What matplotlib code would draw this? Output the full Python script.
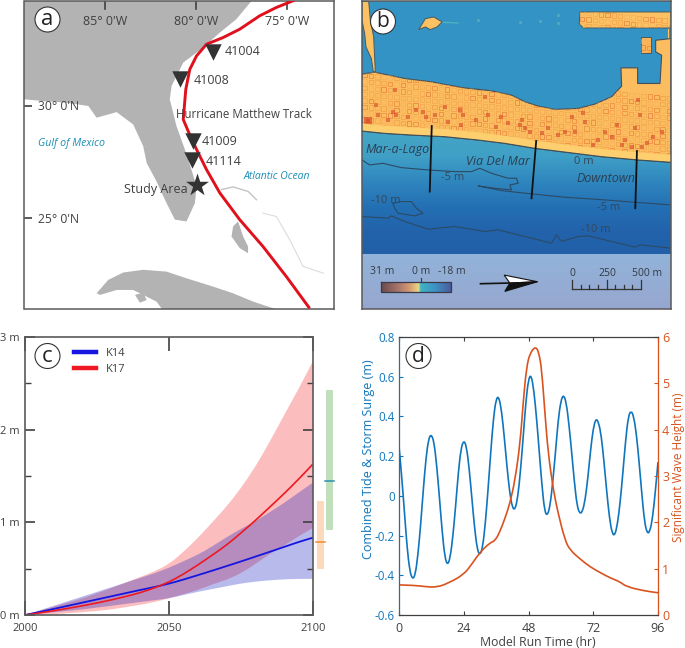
import numpy as np
import matplotlib
matplotlib.use("Agg")
import matplotlib.pyplot as plt
from matplotlib.colors import LinearSegmentedColormap
from matplotlib.patches import Circle, Polygon, PathPatch
from matplotlib.path import Path
from matplotlib.transforms import IdentityTransform

plt.rcParams['font.family'] = ['Open Sans', 'DejaVu Sans']

W, H = 685, 648

# ---- panel a, lon/lat
coast_lon = [-92, -89.39, -88.38, -87.10, -85.91, -85.46, -84.36, -83.45, -82.90, -82.71, -82.17, -81.62, -81.16,
             -80.52, -80.06, -79.97, -80.25, -80.61, -81.07, -81.44, -81.34, -80.70, -79.61, -78.69, -77.78, -76.86, -76.5, -92]
coast_lat = [30.30, 30.30, 30.22, 30.15, 30.0, 29.48, 29.73, 29.18, 28.21, 27.46, 26.64, 25.67, 24.93,
             24.85, 25.67, 26.42, 27.16, 28.06, 29.10, 30.30, 30.90, 31.94, 32.61, 33.28, 33.88, 34.78, 36, 36]
cuba_lon = [-85.46, -84.82, -83.99, -82.90, -81.62, -80.52, -79.06, -77.96, -76.86, -75.49, -75.40, -81.62, -82.17, -83.45, -84.36, -85.27]
cuba_lat = [21.64, 22.24, 22.57, 22.69, 22.61, 22.31, 21.94, 21.64, 21.27, 20.90, 20.67, 20.67, 21.27, 21.79, 21.79, 21.57]
youth_lon = [-83.35, -82.90, -82.71, -83.08]
youth_lat = [21.57, 21.67, 21.34, 21.22]
andros_lon = [-77.96, -77.69, -77.41, -77.14, -77.14, -77.60, -78.05]
andros_lat = [24.63, 24.85, 24.18, 23.73, 23.43, 23.66, 24.18]
bahama_lon = [-78.60, -77.96, -77.14, -76.68]
bahama_lat = [26.27, 26.39, 26.19, 25.82]
bank_lon = [-76.32, -75.59, -74.85, -74.12, -73.0]
bank_lat = [25.22, 25.07, 24.03, 22.84, 22.54]
track_lon = [-74.58, -75.59, -76.50, -77.60, -78.51, -79.42, -79.97, -80.34, -80.56, -80.70, -80.43, -79.97, -79.42, -78.69, -77.60, -76.32, -75.04, -73.76]
track_lat = [34.73, 34.40, 34.03, 33.43, 33.06, 32.76, 32.24, 31.64, 30.75, 29.40, 28.88, 28.06, 27.16, 26.12, 24.93, 23.73, 22.39, 20.97]
buoy_ids = ['41004', '41008', '41009', '41114']
buoy_lon = [-79.06, -80.89, -80.19, -80.21]
buoy_lat = [32.42, 31.19, 28.43, 27.58]
study_lon = [-79.97]
study_lat = [26.49]

# ---- panel b, map units (2.43 m each)
mainland_x = [52, 90, 180, 260, 350, 440, 500, 540, 580, 630, 700, 750, 800, 830, 828, 878, 878, 945, 950, 932, 932, 978,
              978, 880, 770, 650, 570, 480, 400, 300, 200, 120, 52]
mainland_y = [222, 216, 235, 245, 262, 272, 285, 305, 318, 328, 325, 312, 290, 258, 203, 203, 250, 250, 165, 155, 120, 115,
              487, 480, 470, 455, 445, 430, 420, 410, 405, 400, 393]
spit_x = [52, 72, 77, 87, 90, 92, 86, 80, 64, 60, 52]
spit_y = [3, 3, 60, 110, 175, 215, 215, 175, 140, 100, 60]
island_x = [705, 978, 978, 715, 703]
island_y = [35, 35, 83, 83, 70]
block_x = [887, 918, 918, 887]
block_y = [110, 110, 158, 158]
islet_x = [222, 242, 267, 292, 277, 257, 242]
islet_y = [88, 55, 50, 65, 80, 88, 80]
shoal_x = [400, 525, 585, 640, 640]
shoal_y = [60, 65, 62, 67, 43]
contour5_x = [52, 75, 115, 170, 250, 330, 380, 405, 440, 490, 515, 520, 495, 500, 450, 400, 470, 560, 660, 780, 880, 978]
contour5_y = [480, 495, 490, 503, 510, 515, 515, 505, 520, 535, 535, 550, 555, 570, 565, 558, 572, 582, 592, 600, 608, 615]
contour10_x = [52, 130, 140, 180, 250, 330, 420, 460, 520, 620, 635, 650, 700, 730, 800, 870, 885, 978]
contour10_y = [650, 655, 648, 665, 688, 680, 695, 690, 705, 730, 705, 725, 710, 708, 725, 742, 735, 745]
blob_x = [145, 170, 200, 215, 235, 210, 160, 150, 145]
blob_y = [610, 605, 605, 625, 640, 648, 640, 625, 610]
transect_x = [(261, 255), (574, 560), (876, 871)]
transect_y = [(378, 575), (423, 595), (453, 625)]
# darker building clusters
bld_x = [70, 100, 145, 155, 235, 245, 270, 300, 355, 350, 430, 455, 525, 540, 555, 590, 640, 715, 720, 745, 800, 830, 860, 885, 890,
         925, 150, 345, 420, 690, 880, 95, 130, 190, 215, 310, 395, 470, 490, 530, 610, 660, 680, 760, 780, 815, 840, 870, 905, 950]
bld_y = [362, 345, 335, 345, 335, 350, 345, 320, 345, 375, 345, 380, 375, 385, 395, 400, 405, 340, 365, 435, 410, 435, 440, 345, 440,
         410, 270, 330, 290, 395, 300, 315, 360, 350, 330, 365, 360, 350, 370, 360, 385, 395, 350, 420, 395, 375, 420, 385, 430, 395]

# ---- panel c
years = [2000, 2005, 2010, 2015, 2020, 2025, 2030, 2035, 2040, 2045, 2050, 2055, 2060, 2065, 2070, 2075, 2080, 2085, 2090, 2095, 2100]
k14_med = [0, .032, .066, .10, .134, .168, .202, .236, .27, .302, .338, .382, .43, .478, .528, .578, .63, .682, .735, .788, .835]
k14_low = [0, .015, .03, .045, .06, .08, .10, .12, .14, .16, .18, .215, .25, .28, .31, .34, .36, .375, .385, .39, .39]
k14_high = [0, .05, .10, .15, .20, .25, .30, .35, .40, .45, .51, .58, .65, .74, .84, .93, 1.01, 1.11, 1.21, 1.32, 1.43]
k17_med = [0, .022, .046, .072, .10, .13, .163, .20, .24, .293, .355, .44, .54, .645, .755, .885, 1.02, 1.165, 1.31, 1.465, 1.63]
k17_low = [0, .005, .01, .02, .03, .045, .06, .085, .11, .14, .18, .225, .27, .33, .38, .45, .55, .66, .75, .85, .94]
k17_high = [0, .045, .09, .135, .18, .235, .29, .35, .41, .47, .55, .68, .83, 1.0, 1.17, 1.37, 1.60, 1.87, 2.16, 2.44, 2.74]
bar_low = [0.50, 0.92]
bar_high = [1.23, 2.43]
bar_mid = [0.79, 1.45]
bar_left = [2101.4, 2104.6]
bar_right = [2103.7, 2106.9]
bar_colors = ['#fdd9bb', '#c0e0bb']
mid_colors = ['#f08a33', '#2b8fb0']

# ---- panel d
hours = list(range(97))
tide = [.25, .10, -.08, -.26, -.38, -.42, -.40, -.30, -.15, .03, .19, .29, .31, .27, .15, -.01, -.18, -.31, -.35, -.31,
        -.20, -.05, .12, .24, .28, .25, .14, -.01, -.16, -.27, -.30, -.26, -.14, .03, .22, .39, .49, .50, .43, .30,
        .15, .02, -.06, -.07, -.01, .12, .29, .47, .59, .61, .53, .39, .22, .05, -.08, -.10, -.05, .07, .22, .38,
        .48, .51, .47, .36, .22, .07, -.05, -.09, -.08, -.02, .09, .23, .34, .39, .37, .30, .17, .02, -.11, -.19,
        -.20, -.14, -.03, .12, .28, .40, .43, .40, .31, .17, .01, -.13, -.19, -.18, -.11, .02, .17]
wave_t = [0, 6, 10, 14, 18, 24, 27, 30, 33.7, 35.6, 37.4, 39.3, 41.1, 43, 44.9, 46.1, 47.3, 48.6, 50.7, 51.9, 52.9, 54.1,
          55.3, 57.2, 59, 61.5, 63.4, 67.1, 70.8, 75, 78.7, 81.8, 84.3, 91, 96]
wave_h = [.65, .64, .61, .60, .68, .87, 1.10, 1.35, 1.56, 1.60, 1.80, 2.09, 2.41, 2.91, 3.71, 4.64, 5.36, 5.66, 5.80, 5.65, 5.29, 4.35,
          3.49, 2.70, 2.19, 1.62, 1.40, 1.21, 1.04, .90, .79, .72, .61, .52, .48]

GRAY = '#404040'
FRAME = '#5a5a5a'


def add_axes(x0, y0, x1, y1):
    return fig.add_axes([x0 / W, 1 - y1 / H, (x1 - x0) / W, (y1 - y0) / H])


def panel_letter(cx, cy, letter, size):
    fig.add_artist(Circle((cx, H - cy), 12.5, transform=IdentityTransform(), fc='white', ec='#333333', lw=0.8, zorder=10))
    fig.text(cx / W, 1 - cy / H, letter, ha='center', va='center', fontsize=size, color='#222222', zorder=11)


def curve(x, y):
    # quadratic bezier through the read values so the line has no corners
    verts = [(x[0], y[0])]
    codes = [Path.MOVETO]
    for i in range(1, len(x) - 1):
        verts += [(x[i], y[i]), ((x[i] + x[i + 1]) / 2, (y[i] + y[i + 1]) / 2)]
        codes += [Path.CURVE3, Path.CURVE3]
    verts.append((x[-1], y[-1]))
    codes.append(Path.LINETO)
    return verts, codes


def draw_line(ax, x, y, color, lw):
    verts, codes = curve(x, y)
    ax.add_patch(PathPatch(Path(verts, codes), fc='none', ec=color, lw=lw))


def draw_band(ax, x, low, high, color, alpha):
    v1, c1 = curve(x, high)
    v2, c2 = curve(x[::-1], low[::-1])
    c2[0] = Path.LINETO
    verts = v1 + v2 + [v1[0]]
    codes = c1 + c2 + [Path.CLOSEPOLY]
    ax.add_patch(PathPatch(Path(verts, codes), fc=color, alpha=alpha, lw=0))


def block_texture(ax, clip, x0, x1, y0, y1):
    # hollow city blocks along the shore direction, colours cycle so it doesn't look like a plain grid
    cols = ['#f7b259', '#f0953f', '#ea7d35', '#f6ad56', '#f09a47', '#e56f36', '#f3a34e']
    groups = {c: ([], []) for c in cols}
    for i, gx in enumerate(range(x0, x1, 19)):
        for j, gy in enumerate(range(y0, y1, 19)):
            c = cols[(i * 3 + j * 5 + i * j) % len(cols)]
            groups[c][0].append(gx)
            groups[c][1].append(gy + (gx - 52) * 0.098)
    for c, (px, py) in groups.items():
        pts = ax.scatter(px, py, s=10, marker='s', facecolors='none', edgecolors=c, lw=0.45, alpha=.9, zorder=3.2)
        pts.set_clip_path(clip)


fig = plt.figure(figsize=(W / 100, H / 100), dpi=100)

# panel a
ax = add_axes(24.5, 1, 334, 309)
ax.set_xlim(-89.42, -72.42)
ax.set_ylim(20.94, 34.69)
land = '#b3b3b3'
ax.fill(coast_lon, coast_lat, color=land, lw=0)
ax.fill(cuba_lon, cuba_lat, color=land, lw=0)
ax.fill(youth_lon, youth_lat, color=land, lw=0)
ax.fill(andros_lon, andros_lat, color=land, lw=0)
ax.plot(bahama_lon, bahama_lat, color='#c4c4c4', lw=1)
ax.plot(bank_lon, bank_lat, color='#dcdcdc', lw=0.8)
ax.plot(track_lon, track_lat, color='#e0101c', lw=2.1, zorder=3, solid_capstyle='butt')
ax.scatter(buoy_lon, buoy_lat, marker='v', s=140, color='#333333', lw=0, zorder=4)
ax.scatter(study_lon, study_lat, marker='*', s=300, color='#333333', lw=0, zorder=4)
ax.set_xticks([])
ax.set_yticks([25, 30])
ax.tick_params(axis='y', direction='in', labelleft=False, length=6, width=1.2, color=GRAY)
for lon, lab in zip([-85, -80, -75], ["85° 0'W", "80° 0'W", "75° 0'W"]):
    ax.plot([lon, lon], [34.69, 34.35], color=GRAY, lw=1.2)
    ax.text(lon, 33.79, lab, ha='center', va='center', fontsize=9, color=GRAY)
ax.text(-87.55, 29.96, "30° 0'N", ha='center', va='center', fontsize=8.7, color=GRAY)
ax.text(-87.55, 24.95, "25° 0'N", ha='center', va='center', fontsize=8.7, color=GRAY)
for b, lab, dx, dy in zip(range(4), buoy_ids, [0.65, 0.75, 0.5, 0.75], [0, -0.05, 0, -0.05]):
    ax.text(buoy_lon[b] + dx, buoy_lat[b] + dy, lab, va='center', fontsize=9, color=GRAY, zorder=5)
ax.text(-81.1, 29.62, 'Hurricane Matthew Track', va='center', fontsize=8.3, color=GRAY, zorder=5)
ax.text(-83.96, 26.27, 'Study Area', va='center', fontsize=9, color=GRAY, zorder=5)
ax.text(-88.7, 28.35, 'Gulf of Mexico', va='center', fontsize=7.7, style='italic', color='#1b8fb5')
ax.text(-77.4, 26.87, 'Atlantic Ocean', va='center', fontsize=7.5, style='italic', color='#1b8fb5')
for s in ax.spines.values():
    s.set_color(FRAME)
    s.set_linewidth(1.1)
panel_letter(47.5, 19.5, 'a', 16)

# panel b
ax = add_axes(362, 1, 671, 309)
water = LinearSegmentedColormap.from_list('water', ['#45a5c5', '#3f9fc6', '#2f86be', '#2470b4', '#2263ab', '#2160a8'])
ax.set_facecolor('#3393c4')
ax.imshow(np.linspace(0, 1, 200)[:, None], extent=(52, 978, 770, 400), cmap=water, aspect='auto', zorder=1)
ax.imshow(np.linspace(0, 1, 50)[:, None], extent=(52, 978, 928, 765), aspect='auto', zorder=2,
          cmap=LinearSegmentedColormap.from_list('strip', ['#92b3d9', '#97a7cf']))
top_water = Polygon(list(zip(mainland_x[:22], mainland_y[:22])) + [(978, 2), (52, 2)], fc='#3393c4', lw=0, zorder=1.4)
ax.add_patch(top_water)
for lx, ly in [(spit_x, spit_y), (islet_x, islet_y)]:
    ax.fill(lx, ly, fc='#fcc163', ec='#4a5a60', lw=0.7, zorder=3)
island = ax.fill(island_x, island_y, fc='#fcc163', ec='#4a5a60', lw=0.7, zorder=3)[0]
block = ax.fill(block_x, block_y, fc='#fbb45a', ec='#4a5a60', lw=0.7, zorder=3)[0]
ax.plot([292, 340], [66, 68], color='#4fb0c0', lw=1, zorder=2.5)
ax.scatter(shoal_x, shoal_y, s=5, color='#58a9b8', lw=0, zorder=2.5)
ax.plot([970, 970], [85, 115], color='#fcc163', lw=0.8, zorder=2.5)
main = Polygon(list(zip(mainland_x, mainland_y)), fc='#fbbd5f', ec='#41505a', lw=0.8, zorder=3)
ax.add_patch(main)
block_texture(ax, main, 60, 980, 205, 395)
block_texture(ax, island, 712, 980, -28, 20)
block_texture(ax, block, 895, 915, 40, 80)
blds = ax.scatter(bld_x, bld_y, s=8, marker='s', color='#d9502c', alpha=.65, lw=0, zorder=3.3)
blds.set_clip_path(main)
# beach strip over the blocks
beach = ax.fill(mainland_x[22:] + [52, 120, 200, 300, 400, 480, 570, 650, 770, 880, 978],
                mainland_y[22:] + [370, 377, 382, 387, 397, 407, 422, 432, 447, 457, 464], fc='#fdcf6e', lw=0, zorder=3.4)[0]
beach.set_clip_path(main)
ax.plot(mainland_x[22:], mainland_y[22:], color='#41505a', lw=0.8, zorder=3.5)
ax.scatter([70], [362], s=40, marker='s', color='#d9502c', alpha=.7, lw=0, zorder=3.3)
ax.plot(contour5_x, contour5_y, color='#2c4a66', lw=0.8, zorder=4)
ax.plot(contour10_x, contour10_y, color='#2c4a66', lw=0.8, zorder=4)
ax.plot(blob_x, blob_y, color='#2c4a66', lw=0.8, zorder=4)
for tx, ty in zip(transect_x, transect_y):
    ax.plot(tx, ty, color='#111111', lw=1.3, zorder=5)
note = dict(fontsize=8, color='#33475a', zorder=6, va='center')
ax.text(62, 447, 'Mar-a-Lago', style='italic', fontsize=9, color='#2b3f52', zorder=6, va='center')
ax.text(363, 485, 'Via Del Mar', style='italic', fontsize=9, color='#2b3f52', zorder=6, va='center')
ax.text(695, 536, 'Downtown', style='italic', fontsize=9, color='#2b3f52', zorder=6, va='center')
ax.text(688, 484, '0 m', **note)
ax.text(288, 534, '-5 m', **note)
ax.text(757, 623, '-5 m', **note)
ax.text(78, 602, '-10 m', **note)
ax.text(708, 690, '-10 m', **note)
depth = LinearSegmentedColormap.from_list('depth', [(0, '#6c4a4c'), (.25, '#a9776c'), (.4, '#d69a72'), (.53, '#e6d884'),
                                                     (.56, '#3fb3c5'), (.78, '#3e8ec4'), (1, '#4b5a98')])
ax.imshow(np.linspace(0, 1, 200)[None, :], extent=(110, 320, 878, 848), cmap=depth, aspect='auto', zorder=6)
ax.plot([110, 320, 320, 110, 110], [848, 848, 878, 878, 848], color='#3a3a4a', lw=0.9, zorder=7)
ax.plot([228, 228], [836, 848], color='#3a3a4a', lw=0.8, zorder=7)
ax.text(113, 815, '31 m', ha='center', va='center', fontsize=7.5, color='#333a45', zorder=7)
ax.text(228, 815, '0 m', ha='center', va='center', fontsize=7.5, color='#333a45', zorder=7)
ax.text(320, 815, '-18 m', ha='center', va='center', fontsize=7.5, color='#333a45', zorder=7)
ax.plot([407, 492], [852, 850], color='#111111', lw=1.2, zorder=7)
ax.add_patch(Polygon([(478, 826), (578, 846), (495, 850)], fc='white', ec='#111111', lw=0.8, zorder=8))
ax.add_patch(Polygon([(495, 850), (578, 846), (480, 875)], fc='#111111', ec='#111111', lw=0.8, zorder=8))
ax.plot([682, 888], [868, 868], color='#333333', lw=0.9, zorder=7)
for sb in range(682, 889, 103):
    ax.plot([sb, sb], [868, 840], color='#333333', lw=0.9, zorder=7)
for sb in [707, 733, 759, 811, 837, 862]:
    ax.plot([sb, sb], [868, 855], color='#333333', lw=0.9, zorder=7)
ax.text(682, 820, '0', ha='center', va='center', fontsize=7.5, color='#333a45', zorder=7)
ax.text(786, 820, '250', ha='center', va='center', fontsize=7.5, color='#333a45', zorder=7)
ax.text(905, 820, '500 m', ha='center', va='center', fontsize=7.5, color='#333a45', zorder=7)
ax.set_xlim(52, 978)
ax.set_ylim(928, 2)
ax.set_xticks([])
ax.set_yticks([])
for s in ax.spines.values():
    s.set_color(FRAME)
    s.set_linewidth(1.1)
    s.set_zorder(9)
panel_letter(383, 21.5, 'b', 15)

# panel c
ax = add_axes(25, 337, 313, 615)
draw_band(ax, years, k17_low, k17_high, '#fb9a9c', .65)
draw_band(ax, years, k14_low, k14_high, '#161cc0', .3)
draw_line(ax, years, k14_med, '#1616e0', 1.3)
draw_line(ax, years, k17_med, '#ee1822', 1.2)
for i in range(2):
    ax.fill_between([bar_left[i], bar_right[i]], bar_low[i], bar_high[i], color=bar_colors[i], lw=0, clip_on=False)
    ax.plot([bar_left[i] - .5, bar_right[i] + .5], [bar_mid[i]] * 2, color=mid_colors[i], lw=1.1, clip_on=False)
ax.plot([], [], color='#1616e0', lw=3.2, label='K14')
ax.plot([], [], color='#ee1822', lw=3.2, label='K17')
ax.legend(loc='upper left', bbox_to_anchor=(0.17, 0.96), frameon=False, fontsize=8, labelcolor=GRAY, handlelength=2,
          labelspacing=0.45, handletextpad=0.9, borderpad=0, borderaxespad=0)
ax.set_xlim(2000, 2100)
ax.set_ylim(0, 3)
ax.set_xticks([2000, 2050, 2100])
ax.set_yticks([0, 1, 2, 3])
ax.set_yticklabels(['0 m', '1 m', '2 m', '3 m'])
ax.set_yticks([.5, 1.5, 2.5], minor=True)
ax.tick_params(axis='both', which='major', direction='in', length=10, width=1.2, color=GRAY, labelsize=8, labelcolor=GRAY,
               top=True, right=True, pad=6)
ax.tick_params(axis='y', which='minor', direction='in', length=4, width=1.0, color=GRAY, right=True)
ax.tick_params(axis='y', which='major', length=7, pad=4)
for s in ax.spines.values():
    s.set_color(FRAME)
    s.set_linewidth(1.2)
panel_letter(47.5, 356, 'c', 16)

# panel d
BLUE = '#0f76bd'
ORANGE = '#d9531e'
ax = add_axes(399, 337, 658, 615)
draw_line(ax, hours, tide, BLUE, 1.2)
ax.set_xlim(0, 96)
ax.set_ylim(-.6, .8)
ax.set_xticks([0, 24, 48, 72, 96])
ax.set_yticks([-.6, -.4, -.2, 0, .2, .4, .6, .8])
ax.set_yticklabels(['-0.6', '-0.4', '-0.2', '0', '0.2', '0.4', '0.6', '0.8'])
ax.tick_params(axis='y', direction='in', length=3, width=0.8, colors=BLUE, labelsize=8.3, pad=3)
ax.tick_params(axis='x', direction='in', length=3, width=0.8, color=GRAY, labelcolor=GRAY, labelsize=9, pad=5, top=True)
ax.set_xlabel('Model Run Time (hr)', fontsize=8.8, color=GRAY, labelpad=1, x=0.537)
ax.set_ylabel('Combined Tide & Storm Surge (m)', fontsize=9, color=BLUE, labelpad=0, y=0.56)
ax2 = ax.twinx()
draw_line(ax2, wave_t, wave_h, ORANGE, 1.2)
ax2.set_ylim(0, 6)
ax2.set_yticks(range(7))
ax2.tick_params(axis='y', direction='in', length=3, width=0.8, colors=ORANGE, labelsize=9, pad=3)
ax2.set_ylabel('Significant Wave Height (m)', fontsize=8.5, color=ORANGE, labelpad=2, y=0.532)
ax2.spines['left'].set_color(BLUE)
ax2.spines['right'].set_color(ORANGE)
ax2.spines['top'].set_color(GRAY)
ax2.spines['bottom'].set_color(GRAY)
panel_letter(418.5, 356, 'd', 15)

fig.savefig('out.png', dpi=100)
